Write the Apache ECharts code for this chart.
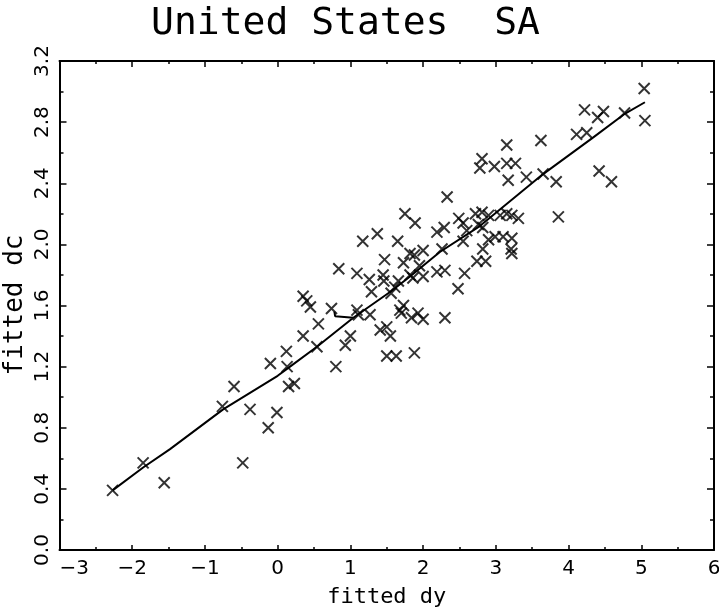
<!DOCTYPE html>
<html><head><meta charset="utf-8">
<script src="https://cdn.jsdelivr.net/npm/echarts@6/dist/echarts.min.js"></script>
<style>html,body{margin:0;padding:0;background:#fff}#c{width:719px;height:614px}</style>
</head><body><div id="c"></div>
<script>
const titleText = 'United States  SA';
const xName = 'fitted dy';
const yName = 'fitted dc';
const xTickValues = [-3, -2, -1, 0, 1, 2, 3, 4, 5, 6];
const xTickLabels = ['−3', '−2', '−1', '0', '1', '2', '3', '4', '5', '6'];
const yTickValues = [0, 0.4, 0.8, 1.2, 1.6, 2.0, 2.4, 2.8, 3.2];
const yTickLabels = ['0.0', '0.4', '0.8', '1.2', '1.6', '2.0', '2.4', '2.8', '3.2'];

const pointsX = [-2.27, -1.85, -1.56, -0.76, -0.60, -0.38, -0.48, -0.13, -0.01, -0.10,
  0.12, 0.13, 0.15, 0.23, 0.35, 1.17, 1.37, 1.65, 2.19, 2.29,
  2.55, 2.76, 2.26, 2.55, 2.90, 2.82, 1.82, 1.88, 2.00, 1.47,
  1.73, 0.84, 1.09, 1.26, 1.45, 1.46, 1.66, 1.82, 1.86, 2.00,
  2.19, 2.30, 2.57, 2.74, 2.86, 2.48, 1.29, 1.56, 1.61, 0.35,
  0.40, 0.45, 0.74, 1.09, 1.11, 1.27, 1.68, 1.73, 1.70, 1.84,
  1.93, 2.00, 2.30, 0.56, 1.41, 1.50, 1.55, 0.54, 0.93, 1.00,
  1.50, 1.63, 1.88, 0.80, 1.95, 1.75, 1.89, 2.33, 3.15, 3.62,
  4.11, 4.25, 2.81, 2.78, 2.98, 3.15, 3.27, 3.17, 3.42, 3.65,
  3.83, 4.42, 3.86, 2.49, 2.72, 2.81, 2.90, 3.06, 3.15, 3.22,
  3.31, 2.60, 2.99, 3.10, 3.22, 3.21, 3.22, 2.82, 5.04, 4.22,
  4.40, 4.48, 4.77, 5.05, 4.59];
const pointsY = [0.39, 0.57, 0.44, 0.94, 1.07, 0.92, 0.57, 0.80, 0.90, 1.22,
  1.30, 1.20, 1.07, 1.09, 1.40, 2.02, 2.07, 2.02, 2.08, 2.11,
  2.14, 2.13, 1.97, 2.02, 2.03, 1.97, 1.94, 1.93, 1.96, 1.90,
  1.88, 1.84, 1.81, 1.77, 1.80, 1.76, 1.76, 1.80, 1.78, 1.79,
  1.82, 1.83, 1.81, 1.89, 1.89, 1.71, 1.69, 1.68, 1.72, 1.66,
  1.63, 1.59, 1.58, 1.57, 1.54, 1.54, 1.57, 1.60, 1.55, 1.52,
  1.55, 1.51, 1.52, 1.48, 1.44, 1.46, 1.40, 1.33, 1.34, 1.40,
  1.27, 1.27, 1.29, 1.20, 1.86, 2.20, 2.14, 2.31, 2.65, 2.68,
  2.72, 2.73, 2.56, 2.50, 2.51, 2.53, 2.53, 2.42, 2.44, 2.46,
  2.41, 2.48, 2.18, 2.17, 2.20, 2.21, 2.19, 2.19, 2.20, 2.19,
  2.17, 2.09, 2.05, 2.05, 2.04, 1.97, 1.94, 2.11, 3.02, 2.88,
  2.83, 2.87, 2.86, 2.81, 2.41];

const fitX = [-2.27, -1.85, -1.48, -0.75, 0.00, 0.17, 0.54, 1.04, 0.79, 0.78, 0.79, 1.04, 1.55, 1.82, 2.23, 2.78, 3.65, 4.34, 4.76, 5.05];
const fitY = [0.39, 0.54, 0.66, 0.92, 1.14, 1.20, 1.33, 1.52, 1.53, 1.56, 1.53, 1.52, 1.69, 1.79, 1.95, 2.12, 2.46, 2.70, 2.85, 2.93];

const FONT = 'DejaVu Sans';
const MONO = 'DejaVu Sans Mono';
const chart = echarts.init(document.getElementById('c'), null, {renderer: 'canvas'});

const frameLine = {show: true, onZero: false, lineStyle: {color: '#000', width: 2}};
function fmtX(v) { const i = xTickValues.findIndex(t => Math.abs(t - v) < 1e-9); return i >= 0 ? xTickLabels[i] : ''; }
function fmtY(v) { const i = yTickValues.findIndex(t => Math.abs(t - v) < 1e-9); return i >= 0 ? yTickLabels[i] : ''; }

const option = {
  backgroundColor: '#fff',
  animation: false,
  title: {
    text: titleText, left: 146, top: 0,
    textStyle: {fontFamily: MONO, fontSize: 38, fontWeight: 'normal', color: '#000'}
  },
  graphic: [{
    type: 'text', x: 15, y: 305, rotation: Math.PI / 2, silent: true,
    style: {text: yName, font: '26px "DejaVu Sans Mono"', fill: '#000', align: 'center', verticalAlign: 'middle'}
  }],
  grid: {left: 59.5, right: 5, top: 61, bottom: 64, containLabel: false, outerBoundsMode: 'none'},
  xAxis: [{
    type: 'value', position: 'bottom', min: -3, max: 6, interval: 1,
    name: xName, nameLocation: 'middle', nameGap: 36,
    nameTextStyle: {fontFamily: MONO, fontSize: 22, color: '#000'},
    axisLine: frameLine,
    axisTick: {show: true, inside: true, length: 5, lineStyle: {color: '#000', width: 1.5}},
    minorTick: {show: true, splitNumber: 2, length: 3, lineStyle: {color: '#000', width: 1.5}},
    splitLine: {show: false},
    axisLabel: {show: true, margin: 9, fontFamily: FONT, fontSize: 20, color: '#000', formatter: fmtX,
      alignMinLabel: 'left', alignMaxLabel: 'center'}
  }, {
    type: 'value', position: 'top', min: -3, max: 6, interval: 1,
    axisLine: frameLine,
    axisTick: {show: true, inside: true, length: 6, lineStyle: {color: '#000', width: 1.5}},
    minorTick: {show: true, splitNumber: 2, length: 3, lineStyle: {color: '#000', width: 1.5}},
    splitLine: {show: false}, axisLabel: {show: false}
  }],
  yAxis: [{
    type: 'value', position: 'left', min: 0, max: 3.2, interval: 0.4,
    axisLine: frameLine,
    axisTick: {show: true, inside: true, length: 7, lineStyle: {color: '#000', width: 1.5}},
    minorTick: {show: true, splitNumber: 2, length: 4, lineStyle: {color: '#000', width: 1.5}},
    splitLine: {show: false},
    axisLabel: {show: true, rotate: 90, margin: 7, fontFamily: FONT, fontSize: 20, color: '#000', formatter: fmtY}
  }, {
    type: 'value', position: 'right', min: 0, max: 3.2, interval: 0.4,
    axisLine: frameLine,
    axisTick: {show: true, inside: true, length: 7, lineStyle: {color: '#000', width: 1.5}},
    minorTick: {show: true, splitNumber: 2, length: 4, lineStyle: {color: '#000', width: 1.5}},
    splitLine: {show: false}, axisLabel: {show: false}
  }],
  series: [{
    type: 'scatter', xAxisIndex: 0, yAxisIndex: 0,
    symbol: 'path://M0,0L10,10M10,0L0,10', symbolSize: 11,
    itemStyle: {color: 'rgba(0,0,0,0)', borderColor: '#000', borderWidth: 2},
    data: pointsX.map((x, i) => [x, pointsY[i]]),
    silent: true
  }, {
    type: 'line', xAxisIndex: 0, yAxisIndex: 0, showSymbol: false, symbol: 'none',
    lineStyle: {color: '#000', width: 2}, smooth: false,
    data: fitX.map((x, i) => [x, fitY[i]]),
    silent: true
  }]
};
chart.setOption(option);
</script></body></html>
